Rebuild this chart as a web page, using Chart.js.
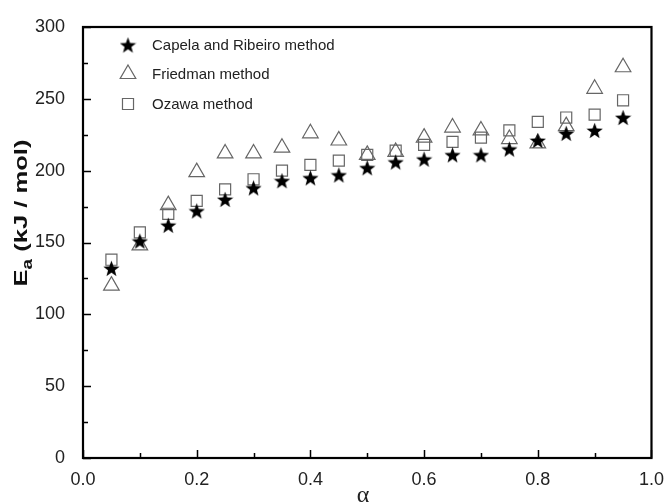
<!DOCTYPE html>
<html>
<head>
<meta charset="utf-8">
<script src="https://cdn.jsdelivr.net/npm/chart.js@4.4.0/dist/chart.umd.min.js"></script>
<style>
  body { margin: 0; background: #fff; }
  #wrap { width: 667px; height: 502px; }
</style>
</head>
<body>
<div id="wrap"><canvas id="ea" width="667" height="502"></canvas></div>
<script>
const alpha = [0.05, 0.10, 0.15, 0.20, 0.25, 0.30, 0.35, 0.40, 0.45, 0.50,
               0.55, 0.60, 0.65, 0.70, 0.75, 0.80, 0.85, 0.90, 0.95];
const capela = [132, 151, 162, 172, 180, 188, 193, 195, 197, 202,
                206, 208, 211, 211, 215, 221, 226, 228, 237];
const friedman = [120, 148, 176, 199, 212, 212, 216, 226, 221, 211,
                  213, 223, 230, 228, 222, 219, 231, 257, 272];
const ozawa = [138, 157, 170, 179, 187, 194, 200, 204, 207, 211,
               214, 218, 220, 223, 228, 234, 237, 239, 249];
const seriesNames = ['Capela and Ribeiro method', 'Friedman method', 'Ozawa method'];
const yTicks = [0, 50, 100, 150, 200, 250, 300];
const xTicks = [0.0, 0.2, 0.4, 0.6, 0.8, 1.0];

const FONT = '"Liberation Sans", Arial, sans-serif';
const GREY = '#666';

// filled five point star used as point style
function makeStar(size) {
    const c = document.createElement('canvas');
    c.width = size; c.height = size;
    const g = c.getContext('2d');
    const cx = size / 2, cy = size / 2 + 0.8, ro = size / 2, ri = ro * 0.42;
    g.beginPath();
    for (let i = 0; i < 10; i++) {
        const r = i % 2 === 0 ? ro : ri;
        const a = -Math.PI / 2 + i * Math.PI / 5;
        g.lineTo(cx + r * Math.cos(a), cy + r * Math.sin(a));
    }
    g.closePath();
    g.fillStyle = '#000';
    g.fill();
    return c;
}
const starImg = makeStar(17);

function pts(ys) {
    return alpha.map((x, i) => ({ x: x, y: ys[i] }));
}

const markerStyles = [
    { pointStyle: starImg, radius: 8, borderColor: '#000', backgroundColor: '#000', borderWidth: 1 },
    { pointStyle: 'triangle', radius: 9, borderColor: GREY, backgroundColor: 'rgba(255,255,255,0)', borderWidth: 1.2 },
    { pointStyle: 'rect', radius: 7.8, borderColor: GREY, backgroundColor: 'rgba(255,255,255,0)', borderWidth: 1.2 }
];

function dataset(label, ys, m) {
    return {
        label: label,
        data: pts(ys),
        showLine: false,
        pointStyle: m.pointStyle,
        pointRadius: m.radius,
        pointHoverRadius: m.radius,
        pointBorderColor: m.borderColor,
        pointBackgroundColor: m.backgroundColor,
        pointBorderWidth: m.borderWidth
    };
}

// frame, inward ticks, legend and axis titles
const decor = {
    id: 'decor',
    afterDraw(chart) {
        const ctx = chart.ctx;
        const a = chart.chartArea;
        const xs = chart.scales.x, ys = chart.scales.y;
        ctx.save();
        ctx.strokeStyle = '#000';
        ctx.lineWidth = 1.5;
        ctx.beginPath();
        for (let v = 0; v <= 300; v += 25) {
            const p = Math.round(ys.getPixelForValue(v)) + 0.5;
            const len = v % 50 === 0 ? 8 : 5;
            ctx.moveTo(a.left, p); ctx.lineTo(a.left + len, p);
        }
        for (let i = 0; i <= 10; i++) {
            const p = Math.round(xs.getPixelForValue(i / 10)) + 0.5;
            const len = i % 2 === 0 ? 8 : 5;
            ctx.moveTo(p, a.bottom); ctx.lineTo(p, a.bottom - len);
        }
        ctx.stroke();
        ctx.lineWidth = 2.2;
        ctx.strokeRect(a.left, a.top, a.right - a.left, a.bottom - a.top);

        // legend
        ctx.font = '15px ' + FONT;
        ctx.textBaseline = 'middle';
        ctx.textAlign = 'left';
        const rows = [45, 74, 104];
        seriesNames.forEach((name, i) => {
            const m = markerStyles[i];
            ctx.strokeStyle = m.borderColor;
            ctx.fillStyle = m.backgroundColor;
            ctx.lineWidth = m.borderWidth;
            Chart.helpers.drawPoint(ctx, {
                pointStyle: m.pointStyle, radius: m.radius, rotation: 0, borderWidth: m.borderWidth
            }, 128, rows[i]);
            ctx.fillStyle = '#222';
            ctx.fillText(name, 152, rows[i] + 1);
        });

        // y title with subscript, stretched to the length seen in the figure
        ctx.save();
        ctx.translate(27, 213);
        ctx.rotate(-Math.PI / 2);
        ctx.fillStyle = '#111';
        ctx.textBaseline = 'alphabetic';
        ctx.textAlign = 'left';
        const big = 'bold 19px ' + FONT, small = 'bold 14px ' + FONT;
        ctx.font = big;
        const wE = ctx.measureText('E').width;
        const wR = ctx.measureText(' (kJ / mol)').width;
        ctx.font = small;
        const wa = ctx.measureText('a').width;
        const total = wE + wa + wR;
        ctx.scale(147 / total, 1);
        let x0 = -total / 2;
        ctx.font = big;
        ctx.fillText('E', x0, 0);
        ctx.font = small;
        ctx.fillText('a', x0 + wE, 5);
        ctx.font = big;
        ctx.fillText(' (kJ / mol)', x0 + wE + wa, 0);
        ctx.restore();

        // x title
        ctx.fillStyle = '#222';
        ctx.font = '24px "Liberation Serif", "DejaVu Serif", serif';
        ctx.textAlign = 'center';
        ctx.textBaseline = 'alphabetic';
        ctx.fillText('\u03b1', 363, 502);
        ctx.restore();
    }
};

new Chart(document.getElementById('ea'), {
    type: 'scatter',
    data: {
        datasets: [
            dataset(seriesNames[0], capela, markerStyles[0]),
            dataset(seriesNames[1], friedman, markerStyles[1]),
            dataset(seriesNames[2], ozawa, markerStyles[2])
        ]
    },
    options: {
        responsive: false,
        animation: false,
        layout: { padding: { top: 27, right: 15, left: 0, bottom: 0 } },
        plugins: { legend: { display: false }, tooltip: { enabled: false } },
        scales: {
            x: {
                type: 'linear', min: 0, max: 1,
                afterFit(s) { s.height = 44; },
                afterBuildTicks(s) { s.ticks = xTicks.map(v => ({ value: v })); },
                grid: { display: false },
                border: { display: false },
                ticks: {
                    padding: 3,
                    color: '#222',
                    font: { family: FONT, size: 18 },
                    callback: v => Number(v).toFixed(1),
                    maxRotation: 0
                }
            },
            y: {
                type: 'linear', min: 0, max: 300,
                afterFit(s) { s.width = 83; },
                afterBuildTicks(s) { s.ticks = yTicks.map(v => ({ value: v })); },
                grid: { display: false },
                border: { display: false },
                ticks: {
                    padding: 10,
                    color: '#222',
                    font: { family: FONT, size: 18 }
                }
            }
        }
    },
    plugins: [decor]
});
</script>
</body>
</html>
